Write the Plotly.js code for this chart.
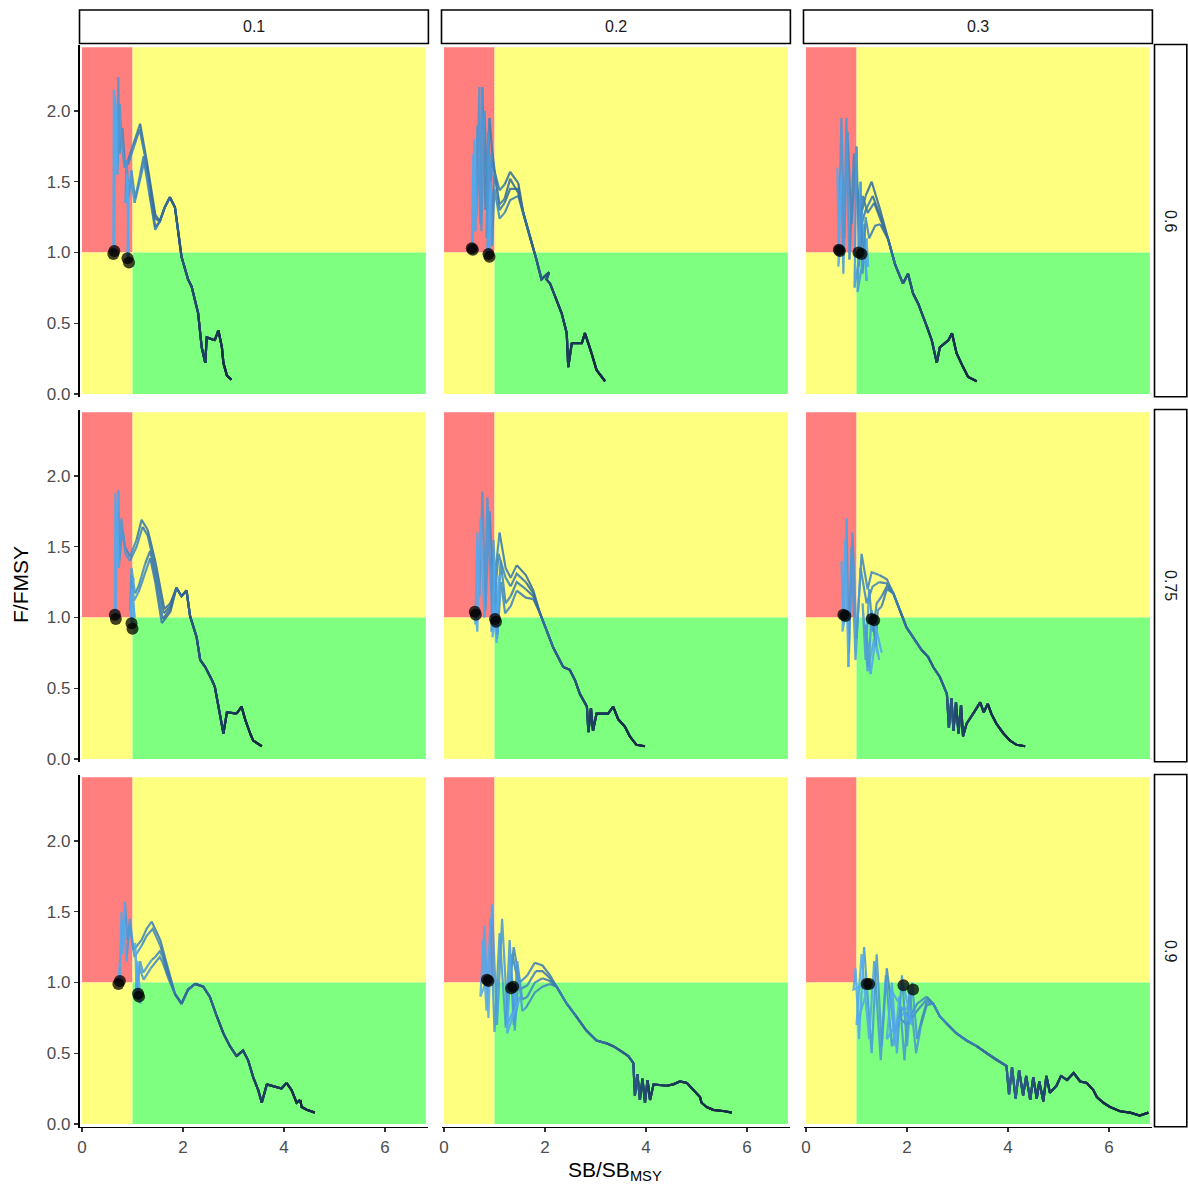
<!DOCTYPE html>
<html><head><meta charset="utf-8">
<script src="https://cdn.plot.ly/plotly-3.0.1.min.js"></script>
<style>html,body{margin:0;padding:0;background:#fff;}#chart{width:1188px;height:1189px;}</style>
</head><body><div id="chart"></div>
<script>
// ---- labels / ticks ----
const colLabels = ["0.1", "0.2", "0.3"];
const rowLabels = ["0.6", "0.75", "0.9"];
const xTicks = [0, 2, 4, 6];
const yTicks = [0, 0.5, 1.0, 1.5, 2.0];
const xTitle = "SB/SB<sub>MSY</sub>";
const yTitle = "F/FMSY";
// Kobe zones
const zoneRef = 1;
const zoneMaxSB = 6.81;
const zoneMaxF = 2.45;

// ---- trajectories [SB/SBMSY, F/FMSY], chronological ----
// row 0.6, col 0.1
const hist_11 = [[2.96,0.10],[2.87,0.13],[2.80,0.22],[2.77,0.33],[2.70,0.45],[2.63,0.38],[2.47,0.40],[2.44,0.22],[2.37,0.33],[2.30,0.57],[2.17,0.76],[2.10,0.81],[1.97,0.97],[1.91,1.14],[1.84,1.32],[1.74,1.39],[1.64,1.32],[1.54,1.22]];
const a1_11 = [[1.45,1.27],[1.28,1.65],[1.15,1.91],[1.05,1.80],[0.92,1.66],[0.85,1.62],[0.80,1.88],[0.74,1.70],[0.72,2.24],[0.70,1.62],[0.68,1.95],[0.63,2.15],[0.62,0.99]];
const a2_11 = [[1.45,1.24],[1.28,1.62],[1.14,1.87],[1.04,1.76],[0.92,1.63],[0.84,1.60],[0.78,1.80],[0.75,2.05],[0.70,1.55],[0.66,2.10],[0.64,1.01]];
const b1_11 = [[1.45,1.18],[1.33,1.45],[1.22,1.68],[1.15,1.55],[1.05,1.38],[0.98,1.58],[0.93,1.40],[0.88,1.65],[0.86,1.35],[0.92,1.50],[0.90,0.96]];
const b2_11 = [[1.45,1.16],[1.33,1.42],[1.23,1.64],[1.14,1.50],[1.04,1.35],[0.97,1.52],[0.91,1.38],[0.89,1.55],[0.93,0.93]];
// row 0.6, col 0.2
const hist_12 = [[3.19,0.09],[3.02,0.17],[2.92,0.29],[2.79,0.43],[2.73,0.36],[2.53,0.36],[2.46,0.19],[2.43,0.43],[2.33,0.57],[2.20,0.69],[2.10,0.78],[2.03,0.81],[2.08,0.86],[1.93,0.81],[1.83,0.95],[1.70,1.11],[1.57,1.28]];
const a1_12 = [[1.47,1.49],[1.31,1.57],[1.20,1.48],[1.10,1.44],[0.98,1.60],[0.90,1.95],[0.82,1.30],[0.76,2.17],[0.72,1.20],[0.66,1.90],[0.62,1.15],[0.58,1.70],[0.55,1.03]];
const a2_12 = [[1.47,1.45],[1.31,1.45],[1.20,1.35],[1.10,1.30],[0.96,1.70],[0.88,1.20],[0.80,2.00],[0.74,1.15],[0.70,2.17],[0.64,1.25],[0.60,1.80],[0.57,1.02]];
const b1_12 = [[1.47,1.42],[1.31,1.52],[1.20,1.38],[1.10,1.34],[1.00,1.55],[0.94,1.25],[0.88,1.85],[0.84,1.10],[0.95,1.60],[0.86,1.20],[0.92,1.45],[0.88,0.99]];
const b2_12 = [[1.47,1.40],[1.31,1.37],[1.20,1.28],[1.10,1.24],[1.00,1.45],[0.95,1.05],[0.90,1.70],[0.86,1.00],[0.93,1.50],[0.90,0.97]];
// row 0.6, col 0.3
const hist_13 = [[3.38,0.09],[3.21,0.12],[3.11,0.19],[2.98,0.29],[2.89,0.43],[2.82,0.38],[2.65,0.33],[2.59,0.22],[2.49,0.38],[2.39,0.48],[2.22,0.64],[2.12,0.71],[2.02,0.85],[1.92,0.78],[1.86,0.83],[1.76,0.92],[1.63,1.09]];
const a1_13 = [[1.47,1.30],[1.30,1.50],[1.18,1.40],[1.08,1.25],[0.98,1.60],[0.90,1.20],[0.82,1.85],[0.76,1.10],[0.70,1.95],[0.66,1.25],[0.62,1.60],[0.65,1.02]];
const a2_13 = [[1.47,1.26],[1.32,1.40],[1.18,1.30],[1.06,1.15],[0.95,1.70],[0.86,0.95],[0.80,1.95],[0.74,0.85],[0.70,1.55],[0.64,0.90],[0.67,1.01]];
const b1_13 = [[1.47,1.24],[1.35,1.35],[1.22,1.28],[1.12,1.40],[1.05,0.90],[1.00,1.75],[0.96,0.75],[1.15,1.20],[1.20,0.80],[1.10,1.30],[1.04,1.00]];
const b2_13 = [[1.47,1.20],[1.37,1.19],[1.25,1.10],[1.18,1.25],[1.12,0.85],[1.08,1.50],[1.02,0.72],[1.20,1.10],[1.23,0.90],[1.10,0.99]];
// row 0.75, col 0.1
const hist_21 = [[3.56,0.09],[3.39,0.13],[3.33,0.18],[3.23,0.28],[3.16,0.37],[3.06,0.32],[2.87,0.33],[2.80,0.18],[2.73,0.32],[2.63,0.51],[2.57,0.56],[2.44,0.65],[2.34,0.70],[2.27,0.86],[2.14,1.01],[2.07,1.19],[1.97,1.15],[1.87,1.21]];
const a1_21 = [[1.75,1.10],[1.63,1.06],[1.45,1.40],[1.30,1.62],[1.18,1.69],[1.08,1.55],[0.95,1.43],[0.85,1.50],[0.80,1.62],[0.74,1.40],[0.72,1.90],[0.68,1.55],[0.66,1.88],[0.65,1.02]];
const a2_21 = [[1.75,1.08],[1.62,1.03],[1.45,1.35],[1.30,1.58],[1.20,1.64],[1.08,1.50],[0.95,1.40],[0.86,1.45],[0.78,1.70],[0.73,1.35],[0.69,1.75],[0.67,0.99]];
const b1_21 = [[1.75,1.06],[1.60,0.99],[1.45,1.30],[1.35,1.47],[1.25,1.38],[1.12,1.22],[1.05,1.17],[0.98,1.35],[0.95,1.05],[1.02,1.28],[0.96,1.10],[0.98,0.96]];
const b2_21 = [[1.75,1.04],[1.58,0.96],[1.45,1.25],[1.35,1.42],[1.25,1.32],[1.12,1.18],[1.03,1.12],[0.97,1.30],[1.04,1.00],[0.99,1.20],[1.00,0.92]];
// row 0.75, col 0.2
const hist_22 = [[3.98,0.09],[3.81,0.10],[3.68,0.16],[3.58,0.23],[3.45,0.28],[3.35,0.37],[3.25,0.32],[3.02,0.32],[2.95,0.20],[2.91,0.36],[2.86,0.19],[2.83,0.37],[2.69,0.46],[2.59,0.56],[2.49,0.63],[2.36,0.65],[2.26,0.72],[2.16,0.79],[2.03,0.91],[1.90,1.03]];
const a1_22 = [[1.77,1.19],[1.62,1.30],[1.44,1.37],[1.32,1.28],[1.22,1.35],[1.10,1.60],[0.98,1.20],[0.90,1.75],[0.82,1.05],[0.76,1.89],[0.70,1.15],[0.66,1.60],[0.62,0.95],[0.61,1.04]];
const a2_22 = [[1.77,1.17],[1.62,1.25],[1.44,1.31],[1.32,1.22],[1.22,1.28],[1.08,1.45],[0.96,0.95],[0.86,1.85],[0.80,1.00],[0.72,1.70],[0.66,0.90],[0.63,1.02]];
const b1_22 = [[1.77,1.15],[1.62,1.20],[1.44,1.25],[1.32,1.15],[1.22,1.10],[1.12,1.40],[1.05,0.85],[0.98,1.55],[0.94,0.90],[1.10,1.30],[1.04,0.82],[1.01,0.99]];
const b2_22 = [[1.77,1.13],[1.62,1.14],[1.44,1.19],[1.32,1.08],[1.21,1.03],[1.13,1.25],[1.06,0.88],[1.00,1.40],[0.96,0.86],[1.08,1.15],[1.03,0.97]];
// row 0.75, col 0.3
const hist_23 = [[4.34,0.09],[4.17,0.10],[4.04,0.13],[3.91,0.18],[3.77,0.25],[3.67,0.32],[3.60,0.39],[3.52,0.33],[3.45,0.40],[3.31,0.32],[3.18,0.25],[3.11,0.16],[3.07,0.38],[3.02,0.18],[2.97,0.40],[2.92,0.20],[2.88,0.43],[2.83,0.22],[2.79,0.46],[2.65,0.58],[2.52,0.65],[2.42,0.72],[2.29,0.77],[2.16,0.84],[1.99,0.93],[1.86,1.05],[1.73,1.17]];
const a1_23 = [[1.60,1.27],[1.45,1.30],[1.30,1.32],[1.22,1.20],[1.10,1.45],[1.00,0.85],[0.92,1.60],[0.85,0.75],[0.80,1.70],[0.74,0.95],[0.70,1.40],[0.74,1.02]];
const a2_23 = [[1.60,1.24],[1.45,1.25],[1.32,1.22],[1.20,1.10],[1.08,1.35],[0.98,0.70],[0.90,1.50],[0.84,0.65],[0.78,1.55],[0.72,0.90],[0.78,1.01]];
const b1_23 = [[1.60,1.22],[1.50,1.15],[1.40,1.10],[1.32,0.90],[1.25,1.20],[1.18,0.70],[1.12,1.10],[1.22,0.62],[1.35,0.85],[1.45,0.70],[1.30,0.99]];
const b2_23 = [[1.60,1.20],[1.50,1.08],[1.42,1.05],[1.38,0.80],[1.30,1.05],[1.24,0.65],[1.18,0.95],[1.28,0.60],[1.40,0.90],[1.50,0.75],[1.35,0.98]];
// row 0.9, col 0.1
const hist_31 = [[4.61,0.08],[4.45,0.10],[4.35,0.12],[4.32,0.17],[4.25,0.15],[4.15,0.24],[4.05,0.29],[3.95,0.25],[3.66,0.28],[3.56,0.15],[3.49,0.24],[3.39,0.33],[3.29,0.45],[3.19,0.52],[3.06,0.48],[2.93,0.55],[2.80,0.64],[2.67,0.76],[2.53,0.90],[2.40,0.97],[2.24,0.99],[2.10,0.95],[1.97,0.85],[1.84,0.92]];
const a1_31 = [[1.71,1.09],[1.55,1.30],[1.38,1.43],[1.28,1.38],[1.18,1.30],[1.02,1.23],[0.95,1.45],[0.90,1.30],[0.85,1.57],[0.80,1.20],[0.78,1.50],[0.75,1.01]];
const a2_31 = [[1.71,1.07],[1.55,1.26],[1.40,1.38],[1.28,1.33],[1.18,1.26],[1.04,1.18],[0.94,1.40],[0.88,1.15],[0.82,1.45],[0.76,1.20],[0.72,0.99]];
const b1_31 = [[1.71,1.05],[1.60,1.18],[1.54,1.22],[1.45,1.18],[1.38,1.16],[1.21,1.07],[1.15,1.15],[1.08,0.95],[1.05,1.28],[1.12,0.88],[1.11,0.92]];
const b2_31 = [[1.71,1.03],[1.60,1.14],[1.54,1.18],[1.45,1.14],[1.36,1.10],[1.22,1.02],[1.14,1.10],[1.06,0.90],[1.10,1.15],[1.16,0.85],[1.13,0.90]];
// row 0.9, col 0.2
const hist_32 = [[5.70,0.08],[5.56,0.09],[5.33,0.10],[5.20,0.12],[5.10,0.15],[5.07,0.19],[4.94,0.24],[4.81,0.29],[4.67,0.30],[4.54,0.28],[4.41,0.27],[4.15,0.28],[4.08,0.17],[4.03,0.31],[3.98,0.15],[3.93,0.32],[3.88,0.17],[3.83,0.35],[3.78,0.20],[3.75,0.43],[3.65,0.48],[3.49,0.52],[3.35,0.55],[3.22,0.57],[3.02,0.59],[2.82,0.66],[2.62,0.76],[2.43,0.85],[2.23,0.97]];
const a1_32 = [[2.10,1.05],[1.95,1.12],[1.80,1.14],[1.65,1.05],[1.50,1.00],[1.38,1.25],[1.25,0.80],[1.15,1.45],[1.05,0.70],[0.95,1.55],[0.88,0.75],[0.80,1.40],[0.72,0.90],[0.85,1.02]];
const a2_32 = [[2.10,1.03],[1.95,1.08],[1.82,1.08],[1.65,0.98],[1.50,0.95],[1.35,1.20],[1.22,0.70],[1.10,1.35],[1.00,0.65],[0.92,1.45],[0.84,0.80],[0.76,1.30],[0.88,1.01]];
const b1_32 = [[2.10,1.01],[1.95,1.03],[1.80,1.00],[1.65,0.90],[1.55,0.88],[1.45,1.15],[1.38,0.70],[1.30,1.30],[1.22,0.68],[1.50,0.90],[1.40,0.75],[1.37,0.97]];
const b2_32 = [[2.10,0.99],[1.95,0.97],[1.80,0.93],[1.62,0.82],[1.55,0.80],[1.48,1.05],[1.40,0.66],[1.32,1.20],[1.25,0.64],[1.45,0.85],[1.33,0.96]];
// row 0.9, col 0.3
const hist_33 = [[6.78,0.08],[6.61,0.06],[6.42,0.08],[6.22,0.09],[6.02,0.12],[5.89,0.15],[5.76,0.19],[5.69,0.24],[5.56,0.29],[5.43,0.30],[5.30,0.36],[5.17,0.31],[5.05,0.34],[4.96,0.27],[4.83,0.22],[4.76,0.34],[4.70,0.16],[4.62,0.30],[4.57,0.18],[4.50,0.33],[4.44,0.17],[4.36,0.34],[4.30,0.20],[4.22,0.38],[4.15,0.18],[4.08,0.40],[4.02,0.21],[3.97,0.41],[3.88,0.43],[3.78,0.45],[3.58,0.50],[3.38,0.55],[3.18,0.59],[2.98,0.64],[2.78,0.71],[2.65,0.76],[2.52,0.85]];
const a1_33 = [[2.39,0.90],[2.20,0.85],[2.05,0.75],[1.90,0.82],[1.75,0.65],[1.60,1.10],[1.50,0.55],[1.40,1.20],[1.30,0.50],[1.15,1.25],[1.05,0.60],[0.98,1.10],[0.94,0.95],[1.20,0.99]];
const a2_33 = [[2.39,0.88],[2.20,0.80],[2.00,0.70],[1.85,0.75],[1.70,0.55],[1.58,1.05],[1.48,0.45],[1.35,1.15],[1.25,0.60],[1.10,1.20],[1.00,0.70],[1.25,0.99]];
const b1_33 = [[2.39,0.86],[2.30,0.75],[2.20,0.60],[2.10,1.00],[2.00,0.55],[1.90,1.05],[1.80,0.50],[1.70,1.00],[1.60,0.60],[2.05,0.85],[2.12,0.95]];
const b2_33 = [[2.39,0.84],[2.28,0.70],[2.18,0.50],[2.05,0.95],[1.95,0.45],[1.85,0.90],[1.75,0.55],[1.68,0.95],[2.10,0.70],[1.93,0.98]];

const panels = [
  {row:0,col:0,hist:hist_11,tails:[a1_11,a2_11,b1_11,b2_11]},
  {row:0,col:1,hist:hist_12,tails:[a1_12,a2_12,b1_12,b2_12]},
  {row:0,col:2,hist:hist_13,tails:[a1_13,a2_13,b1_13,b2_13]},
  {row:1,col:0,hist:hist_21,tails:[a1_21,a2_21,b1_21,b2_21]},
  {row:1,col:1,hist:hist_22,tails:[a1_22,a2_22,b1_22,b2_22]},
  {row:1,col:2,hist:hist_23,tails:[a1_23,a2_23,b1_23,b2_23]},
  {row:2,col:0,hist:hist_31,tails:[a1_31,a2_31,b1_31,b2_31]},
  {row:2,col:1,hist:hist_32,tails:[a1_32,a2_32,b1_32,b2_32]},
  {row:2,col:2,hist:hist_33,tails:[a1_33,a2_33,b1_33,b2_33]}
];

// ---- styling ----
const W = 1188, H = 1189;
const FONT = "Liberation Sans, Arial, sans-serif";
const colPx = [[79.5,427.9],[441.5,789.9],[803.5,1151.9]];
const rowPx = [[44.5,396.8],[409.5,761.8],[774.5,1126.8]];
const xRange = [-0.05, 6.85], yRange = [-0.02, 2.47];
const LOW = [19,43,67], HIGH = [86,177,247];
function mix(t){ return 'rgb(' + LOW.map((l,i)=>Math.round(l+(HIGH[i]-l)*t)).join(',') + ')'; }

const layout = {width:W, height:H, margin:{l:0,r:0,t:0,b:0}, paper_bgcolor:'#fff', plot_bgcolor:'#fff',
  showlegend:false, hovermode:false, shapes:[], annotations:[], font:{family:FONT}};
const traces = [];
const NB = 12;

panels.forEach((p, idx) => {
  const k = idx + 1, s = k === 1 ? '' : String(k);
  const xr = 'x' + s, yr = 'y' + s;
  const bottom = p.row === 2, left = p.col === 0;
  layout['xaxis' + s] = {domain:[colPx[p.col][0]/W, colPx[p.col][1]/W], range:xRange, anchor:yr,
    showgrid:false, zeroline:false, fixedrange:true, tickvals:xTicks,
    showline:bottom, linecolor:'#000', linewidth:1.6, ticks:bottom?'outside':'', ticklen:4, tickwidth:1.2, tickcolor:'#333',
    showticklabels:bottom, tickfont:{size:17, color:'#4D4D4D', family:FONT}};
  layout['yaxis' + s] = {domain:[1-rowPx[p.row][1]/H, 1-rowPx[p.row][0]/H], range:yRange, anchor:xr,
    showgrid:false, zeroline:false, fixedrange:true, tickvals:yTicks, tickformat:'.1f',
    showline:left, linecolor:'#000', linewidth:1.6, ticks:left?'outside':'', ticklen:4, tickwidth:1.2, tickcolor:'#333',
    showticklabels:left, tickfont:{size:17, color:'#4D4D4D', family:FONT}};
  // zones
  const z = (x0,x1,y0,y1,c) => layout.shapes.push({type:'rect', xref:xr, yref:yr, x0, x1, y0, y1,
    fillcolor:c, line:{width:0}, layer:'below'});
  z(0, zoneRef, zoneRef, zoneMaxF, '#FF7F7F');
  z(0, zoneRef, 0, zoneRef, '#FFFF7F');
  z(zoneRef, zoneMaxSB, zoneRef, zoneMaxF, '#FFFF7F');
  z(zoneRef, zoneMaxSB, 0, zoneRef, '#7FFF7F');
  // trajectories with colour gradient by time
  const ends = [];
  p.tails.forEach(tail => {
    const pts = p.hist.concat(tail);
    const N = pts.length;
    let cur = null, curBin = -1;
    for (let i = 0; i < N - 1; i++) {
      const t = (i + 0.5) / (N - 1);
      const b = Math.min(NB - 1, Math.floor(t * NB));
      if (b !== curBin) {
        if (cur) traces.push(cur);
        cur = {type:'scatter', mode:'lines', xaxis:xr, yaxis:yr, x:[pts[i][0]], y:[pts[i][1]],
          line:{color:mix(Math.pow((b+0.5)/NB, 1.5)), width:2.2}, opacity:0.88, hoverinfo:'skip'};
        curBin = b;
      }
      cur.x.push(pts[i+1][0]); cur.y.push(pts[i+1][1]);
    }
    if (cur) traces.push(cur);
    ends.push(pts[N-1]);
  });
  traces.push({type:'scatter', mode:'markers', xaxis:xr, yaxis:yr, x:ends.map(e=>e[0]), y:ends.map(e=>e[1]),
    marker:{size:12, color:'rgba(0,0,0,0.75)', line:{width:0}}, hoverinfo:'skip'});
});

// strips
colLabels.forEach((lab, c) => {
  layout.shapes.push({type:'rect', xref:'paper', yref:'paper', x0:colPx[c][0]/W, x1:(colPx[c][1]+0.5)/W,
    y0:1-43.5/H, y1:1-10/H, fillcolor:'#fff', line:{color:'#000', width:1.6}});
  layout.annotations.push({xref:'paper', yref:'paper', x:(colPx[c][0]+colPx[c][1])/2/W, y:1-26.8/H,
    text:lab, showarrow:false, font:{size:16, color:'#1A1A1A', family:FONT}, xanchor:'center', yanchor:'middle'});
});
rowLabels.forEach((lab, r) => {
  layout.shapes.push({type:'rect', xref:'paper', yref:'paper', x0:1154.5/W, x1:1186.8/W,
    y0:1-rowPx[r][1]/H, y1:1-rowPx[r][0]/H, fillcolor:'#fff', line:{color:'#000', width:1.6}});
  layout.annotations.push({xref:'paper', yref:'paper', x:1170.6/W, y:1-(rowPx[r][0]+rowPx[r][1])/2/H,
    text:lab, textangle:90, showarrow:false, font:{size:16, color:'#1A1A1A', family:FONT}, xanchor:'center', yanchor:'middle'});
});
// axis titles
layout.annotations.push({xref:'paper', yref:'paper', x:20/W, y:1-585/H, text:yTitle, textangle:-90,
  showarrow:false, font:{size:21, color:'#000', family:FONT}, xanchor:'center', yanchor:'middle'});
layout.annotations.push({xref:'paper', yref:'paper', x:615/W, y:1-1171/H, text:xTitle,
  showarrow:false, font:{size:21, color:'#000', family:FONT}, xanchor:'center', yanchor:'middle'});

Plotly.newPlot('chart', traces, layout, {staticPlot:true, displayModeBar:false});
</script>
</body></html>
